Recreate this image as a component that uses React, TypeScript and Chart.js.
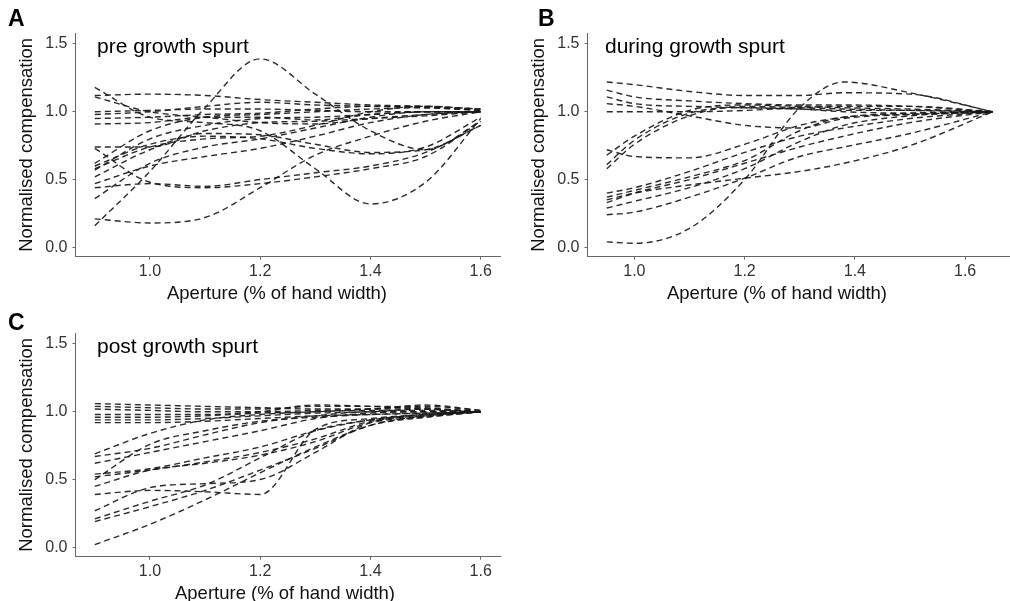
import React, { useEffect, useRef } from 'react';
import { Chart, registerables } from 'chart.js';

Chart.register(...registerables);

// ---------- data ----------
const preX = [0.9, 1.0, 1.1, 1.2, 1.3, 1.4, 1.5, 1.6];
const preSeries = [
  [1.12, 1.13, 1.12, 1.09, 1.07, 1.05, 1.04, 1.02],
  [0.16, 0.56, 1.03, 1.39, 1.13, 0.86, 0.72, 0.93],
  [1.18, 0.96, 0.92, 0.86, 0.58, 0.32, 0.48, 0.95],
  [0.21, 0.18, 0.22, 0.44, 0.68, 0.82, 0.93, 1.0],
  [0.73, 0.48, 0.44, 0.47, 0.52, 0.58, 0.67, 0.93],
  [0.44, 0.47, 0.45, 0.5, 0.55, 0.6, 0.7, 0.9],
  [0.6, 0.76, 0.82, 0.8, 0.73, 0.69, 0.74, 0.96],
  [0.52, 0.72, 0.84, 0.83, 0.76, 0.7, 0.72, 0.9],
  [0.36, 0.62, 0.74, 0.8, 0.88, 0.96, 1.0, 1.0],
  [0.47, 0.6, 0.67, 0.73, 0.82, 0.92, 0.98, 1.0],
  [0.57, 0.8, 0.9, 0.95, 0.96, 0.98, 1.0, 1.0],
  [0.62, 0.86, 0.96, 0.98, 1.0, 1.02, 1.03, 1.01],
  [0.91, 0.92, 0.96, 0.96, 0.94, 0.98, 1.0, 1.0],
  [0.95, 0.96, 0.98, 0.99, 1.02, 1.04, 1.04, 1.01],
  [0.98, 1.0, 1.04, 1.07, 1.05, 1.04, 1.03, 1.01],
  [1.0, 1.01, 1.02, 1.02, 1.01, 1.0, 1.0, 1.0],
  [1.11, 1.0, 0.96, 0.92, 0.91, 0.95, 0.98, 1.0],
  [0.74, 0.74, 0.86, 0.92, 0.93, 0.95, 0.97, 1.0],
  [0.58, 0.74, 0.8, 0.82, 0.9, 1.0, 1.04, 1.02],
];

const duringX = [0.95, 1.0, 1.1, 1.2, 1.3, 1.38, 1.5, 1.65];
const duringSeries = [
  [0.04, 0.03, 0.14, 0.5, 1.03, 1.22, 1.14, 1.0],
  [1.22, 1.2, 1.15, 1.12, 1.12, 1.14, 1.13, 1.0],
  [1.16, 1.11, 1.08, 1.06, 1.05, 1.05, 1.04, 1.0],
  [1.11, 1.06, 1.04, 1.03, 1.02, 1.01, 1.01, 1.0],
  [1.06, 1.04, 0.97, 0.9, 0.88, 0.95, 0.98, 1.0],
  [1.0, 1.0, 1.0, 1.01, 1.03, 1.04, 1.04, 1.0],
  [0.72, 0.67, 0.66, 0.76, 0.9, 0.96, 0.99, 1.0],
  [0.58, 0.76, 0.97, 1.04, 1.03, 1.02, 1.01, 1.0],
  [0.61, 0.79, 0.99, 1.03, 1.02, 1.0, 0.99, 1.0],
  [0.68, 0.82, 1.01, 1.05, 1.04, 1.03, 1.02, 1.0],
  [0.4, 0.44, 0.56, 0.7, 0.82, 0.88, 0.95, 1.0],
  [0.37, 0.42, 0.52, 0.64, 0.86, 0.96, 0.98, 1.0],
  [0.35, 0.4, 0.46, 0.51, 0.56, 0.62, 0.75, 1.0],
  [0.33, 0.4, 0.5, 0.62, 0.74, 0.82, 0.92, 1.0],
  [0.24, 0.26, 0.37, 0.51, 0.67, 0.74, 0.84, 1.0],
  [0.29, 0.34, 0.44, 0.58, 0.78, 0.9, 0.97, 1.0],
];

const postX = [0.9, 1.0, 1.1, 1.2, 1.3, 1.4, 1.5, 1.6];
const postSeries = [
  [1.06, 1.05, 1.04, 1.03, 1.02, 1.02, 1.02, 1.0],
  [1.04, 1.03, 1.02, 1.02, 1.04, 1.04, 1.03, 1.0],
  [1.02, 1.01, 1.0, 1.0, 1.01, 1.02, 1.05, 1.01],
  [0.98, 0.98, 0.98, 1.0, 1.05, 1.04, 1.02, 1.0],
  [0.96, 0.96, 0.97, 0.99, 1.0, 1.02, 1.04, 1.01],
  [0.94, 0.94, 0.95, 0.97, 0.99, 1.0, 1.02, 1.0],
  [0.92, 0.92, 0.93, 0.95, 0.97, 0.98, 0.99, 1.0],
  [0.69, 0.84, 0.94, 0.98, 1.0, 1.01, 1.01, 1.0],
  [0.67, 0.73, 0.83, 0.92, 0.97, 1.0, 1.0, 1.0],
  [0.5, 0.76, 0.86, 0.93, 0.96, 0.98, 0.99, 1.0],
  [0.54, 0.58, 0.66, 0.74, 0.86, 0.94, 0.98, 1.0],
  [0.52, 0.57, 0.63, 0.7, 0.8, 0.93, 0.97, 1.0],
  [0.45, 0.57, 0.62, 0.68, 0.78, 0.92, 0.96, 1.0],
  [0.39, 0.42, 0.41, 0.39, 0.87, 0.95, 0.98, 1.0],
  [0.27, 0.44, 0.47, 0.5, 0.7, 0.92, 0.97, 1.0],
  [0.21, 0.34, 0.46, 0.66, 0.86, 0.94, 0.98, 1.0],
  [0.19, 0.3, 0.42, 0.57, 0.73, 0.9, 0.96, 1.0],
  [0.02, 0.17, 0.35, 0.55, 0.74, 0.9, 0.97, 1.0],
  [0.62, 0.7, 0.78, 0.86, 0.95, 0.99, 1.0, 1.0],
];

const yTickValues = [0, 0.5, 1.0, 1.5];
const xTickValues = [1.0, 1.2, 1.4, 1.6];
const yTitle = 'Normalised compensation';
const xTitle = 'Aperture (% of hand width)';
const panelLetters = ['A', 'B', 'C'];
const panelTitles = ['pre growth spurt', 'during growth spurt', 'post growth spurt'];

// ---------- styling ----------
const FONT = "'Liberation Sans', Arial, Helvetica, sans-serif";
const LINE = 'rgba(25,25,25,0.92)';
const AXIS = '#666';
const CW = 505;
const CH = 310;

type PanelProps = {
  xs: number[];
  series: number[][];
  xMin: number;
  xMax: number;
  left: number;
  top: number;
};

function Panel({ xs, series, xMin, xMax, left, top }: PanelProps) {
  const ref = useRef<HTMLCanvasElement>(null);
  useEffect(() => {
    const chart = new Chart(ref.current as HTMLCanvasElement, {
      type: 'line',
      data: {
        datasets: series.map((ys) => ({
          data: ys.map((y, i) => ({ x: xs[i], y })),
          borderColor: LINE,
          borderWidth: 1.4,
          borderDash: [6, 4],
          pointRadius: 0,
          cubicInterpolationMode: 'monotone',
          fill: false,
        })),
      },
      options: {
        responsive: false,
        animation: false,
        events: [],
        layout: { padding: { top: 33, right: 5, left: 0, bottom: 0 } },
        plugins: { legend: { display: false }, tooltip: { enabled: false }, title: { display: false } },
        scales: {
          x: {
            type: 'linear',
            min: xMin,
            max: xMax,
            afterBuildTicks: (s: any) => {
              s.ticks = xTickValues.map((v) => ({ value: v }));
            },
            afterFit: (s: any) => {
              s.height = 53.3;
            },
            ticks: {
              callback: (v: any) => Number(v).toFixed(1),
              color: '#333',
              font: { family: FONT, size: 16 },
              padding: 2,
              maxRotation: 0,
              autoSkip: false,
            },
            grid: { display: true, drawOnChartArea: false, drawTicks: true, tickLength: 3, color: AXIS },
            border: { display: true, color: AXIS, width: 1 },
            title: { display: false },
          },
          y: {
            type: 'linear',
            min: -0.069,
            max: 1.581,
            afterBuildTicks: (s: any) => {
              s.ticks = yTickValues.map((v) => ({ value: v }));
            },
            afterFit: (s: any) => {
              s.width = 75.5;
            },
            ticks: {
              callback: (v: any) => Number(v).toFixed(1),
              color: '#333',
              font: { family: FONT, size: 16 },
              padding: 5,
              autoSkip: false,
            },
            grid: { display: true, drawOnChartArea: false, drawTicks: true, tickLength: 3, color: AXIS },
            border: { display: true, color: AXIS, width: 1 },
            title: {
              display: true,
              text: yTitle,
              color: '#111',
              font: { family: FONT, size: 18.5 },
              padding: { top: 15.4, bottom: 0 },
            },
          },
        },
      } as any,
    });
    return () => chart.destroy();
  }, []);
  return (
    <canvas
      ref={ref}
      width={CW}
      height={CH}
      style={{ position: 'absolute', left, top, width: CW, height: CH }}
    />
  );
}

const letterStyle: React.CSSProperties = {
  position: 'absolute',
  fontFamily: FONT,
  fontWeight: 'bold',
  fontSize: 23,
  lineHeight: 1,
  color: '#000',
  whiteSpace: 'nowrap',
};
const subStyle: React.CSSProperties = {
  position: 'absolute',
  fontFamily: FONT,
  fontSize: 21,
  lineHeight: 1,
  color: '#000',
  whiteSpace: 'nowrap',
};
const xTitleStyle: React.CSSProperties = {
  position: 'absolute',
  fontFamily: FONT,
  fontSize: 18.5,
  lineHeight: 1,
  color: '#111',
  whiteSpace: 'nowrap',
  transform: 'translateX(-50%)',
};

export default function App() {
  return (
    <div
      style={{
        position: 'absolute',
        left: 0,
        top: 0,
        width: 1010,
        height: 601,
        overflow: 'hidden',
        background: '#fff',
      }}
    >
      <Panel xs={preX} series={preSeries} xMin={0.865} xMax={1.635} left={0} top={0} />
      <Panel xs={duringX} series={duringSeries} xMin={0.915} xMax={1.685} left={512} top={0} />
      <Panel xs={postX} series={postSeries} xMin={0.865} xMax={1.635} left={0} top={300} />
      <div style={{ ...letterStyle, left: 8, top: 7 }}>{panelLetters[0]}</div>
      <div style={{ ...letterStyle, left: 538, top: 7 }}>{panelLetters[1]}</div>
      <div style={{ ...letterStyle, left: 8, top: 311 }}>{panelLetters[2]}</div>
      <div style={{ ...subStyle, left: 97, top: 35 }}>{panelTitles[0]}</div>
      <div style={{ ...subStyle, left: 605, top: 35 }}>{panelTitles[1]}</div>
      <div style={{ ...subStyle, left: 97, top: 335 }}>{panelTitles[2]}</div>
      <div style={{ ...xTitleStyle, left: 277, top: 284 }}>{xTitle}</div>
      <div style={{ ...xTitleStyle, left: 777, top: 284 }}>{xTitle}</div>
      <div style={{ ...xTitleStyle, left: 285, top: 584 }}>{xTitle}</div>
    </div>
  );
}
